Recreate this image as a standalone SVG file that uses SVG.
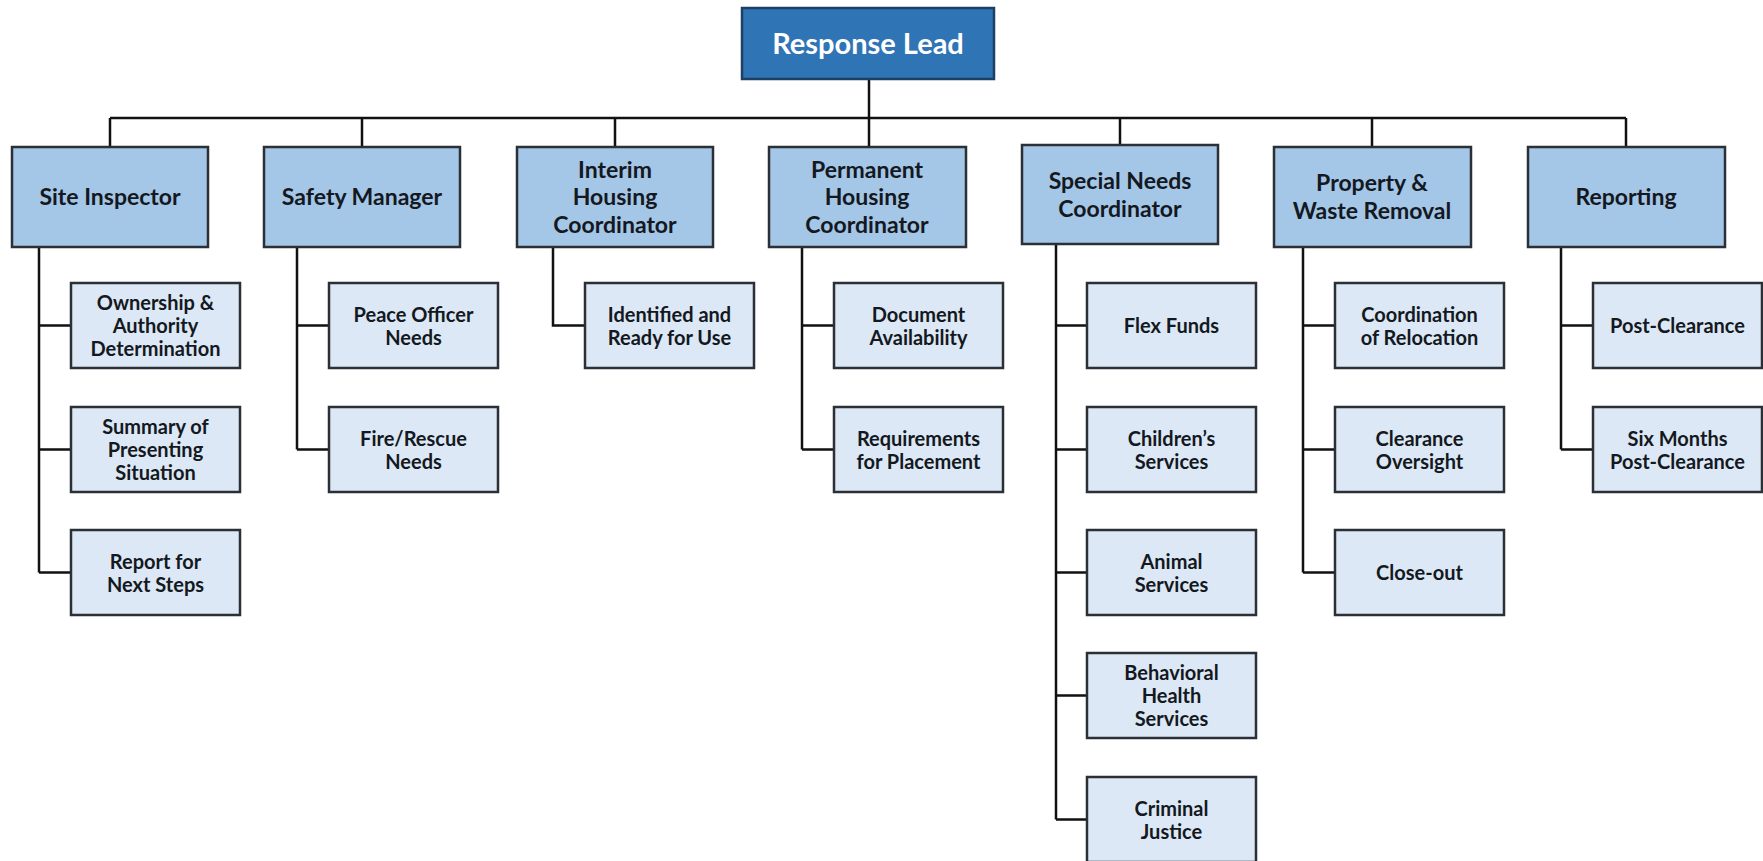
<svg xmlns="http://www.w3.org/2000/svg" width="1763" height="861" viewBox="0 0 1763 861">
<style>
.top{fill:#2f74b5;stroke:#1d3f66;stroke-width:2.5}
.l1{fill:#a4c6e7;stroke:#2b2f36;stroke-width:2.5}
.l2{fill:#dce8f5;stroke:#2b2f36;stroke-width:2.5}
.t0{font-family:Lato,"Open Sans",sans-serif;font-weight:700;font-size:29px;fill:#ffffff;text-anchor:middle}
.t1{font-family:Lato,"Open Sans",sans-serif;font-weight:700;font-size:23px;fill:#141821;text-anchor:middle}
.t2{font-family:Lato,"Open Sans",sans-serif;font-weight:700;font-size:20px;fill:#141821;text-anchor:middle}
.c{fill:none;stroke:#111111;stroke-width:2.5}
</style>
<rect width="1763" height="861" fill="#ffffff"/>
<g id="connectors">
<path class="c" d="M869 79V146M110 118H1626M110 118V147M362 118V147M615 118V147M1120 118V145M1372 118V147M1626 118V147"/>
<path class="c" d="M39 247V572.5M39 325.5H71M39 449.5H71M39 572.5H71"/>
<path class="c" d="M297 247V449.5M297 325.5H329M297 449.5H329"/>
<path class="c" d="M553 247V325.5H585"/>
<path class="c" d="M802 247V449.5M802 325.5H834M802 449.5H834"/>
<path class="c" d="M1056 244V819.5M1056 325.5H1087M1056 449.5H1087M1056 572.5H1087M1056 695.5H1087M1056 819.5H1087"/>
<path class="c" d="M1303 247V572.5M1303 325.5H1335M1303 449.5H1335M1303 572.5H1335"/>
<path class="c" d="M1561 247V449.5M1561 325.5H1593M1561 449.5H1593"/>
</g>
<g id="response-lead"><rect class="top" x="742" y="8" width="252" height="71"/><text class="t0" x="868" y="54">Response Lead</text></g>
<g id="site-inspector"><rect class="l1" x="12" y="147" width="196" height="100"/><text class="t1" x="110" y="205">Site Inspector</text></g>
<g id="safety-manager"><rect class="l1" x="264" y="147" width="196" height="100"/><text class="t1" x="362" y="205">Safety Manager</text></g>
<g id="interim-housing"><rect class="l1" x="517" y="147" width="196" height="100"/><text class="t1" x="615" y="177.5">Interim</text><text class="t1" x="615" y="205">Housing</text><text class="t1" x="615" y="232.5">Coordinator</text></g>
<g id="permanent-housing"><rect class="l1" x="769" y="147" width="197" height="100"/><text class="t1" x="867" y="177.5">Permanent</text><text class="t1" x="867" y="205">Housing</text><text class="t1" x="867" y="232.5">Coordinator</text></g>
<g id="special-needs"><rect class="l1" x="1022" y="145" width="196" height="99"/><text class="t1" x="1120" y="189">Special Needs</text><text class="t1" x="1120" y="216.5">Coordinator</text></g>
<g id="property-waste"><rect class="l1" x="1274" y="147" width="197" height="100"/><text class="t1" x="1372" y="191">Property &amp;</text><text class="t1" x="1372" y="218.5">Waste Removal</text></g>
<g id="reporting"><rect class="l1" x="1528" y="147" width="197" height="100"/><text class="t1" x="1626" y="205">Reporting</text></g>
<g id="ownership"><rect class="l2" x="71" y="283" width="169" height="85"/><text class="t2" x="155.5" y="310">Ownership &amp;</text><text class="t2" x="155.5" y="333">Authority</text><text class="t2" x="155.5" y="356">Determination</text></g>
<g id="summary"><rect class="l2" x="71" y="407" width="169" height="85"/><text class="t2" x="155.5" y="434">Summary of</text><text class="t2" x="155.5" y="457">Presenting</text><text class="t2" x="155.5" y="480">Situation</text></g>
<g id="report-next"><rect class="l2" x="71" y="530" width="169" height="85"/><text class="t2" x="155.5" y="569">Report for</text><text class="t2" x="155.5" y="592">Next Steps</text></g>
<g id="peace-officer"><rect class="l2" x="329" y="283" width="169" height="85"/><text class="t2" x="413.5" y="322">Peace Officer</text><text class="t2" x="413.5" y="345">Needs</text></g>
<g id="fire-rescue"><rect class="l2" x="329" y="407" width="169" height="85"/><text class="t2" x="413.5" y="446">Fire/Rescue</text><text class="t2" x="413.5" y="469">Needs</text></g>
<g id="identified"><rect class="l2" x="585" y="283" width="169" height="85"/><text class="t2" x="669.5" y="322">Identified and</text><text class="t2" x="669.5" y="345">Ready for Use</text></g>
<g id="document"><rect class="l2" x="834" y="283" width="169" height="85"/><text class="t2" x="918.5" y="322">Document</text><text class="t2" x="918.5" y="345">Availability</text></g>
<g id="requirements"><rect class="l2" x="834" y="407" width="169" height="85"/><text class="t2" x="918.5" y="446">Requirements</text><text class="t2" x="918.5" y="469">for Placement</text></g>
<g id="flex-funds"><rect class="l2" x="1087" y="283" width="169" height="85"/><text class="t2" x="1171.5" y="333">Flex Funds</text></g>
<g id="childrens"><rect class="l2" x="1087" y="407" width="169" height="85"/><text class="t2" x="1171.5" y="446">Children’s</text><text class="t2" x="1171.5" y="469">Services</text></g>
<g id="animal"><rect class="l2" x="1087" y="530" width="169" height="85"/><text class="t2" x="1171.5" y="569">Animal</text><text class="t2" x="1171.5" y="592">Services</text></g>
<g id="behavioral"><rect class="l2" x="1087" y="653" width="169" height="85"/><text class="t2" x="1171.5" y="680">Behavioral</text><text class="t2" x="1171.5" y="703">Health</text><text class="t2" x="1171.5" y="726">Services</text></g>
<g id="criminal"><rect class="l2" x="1087" y="777" width="169" height="85"/><text class="t2" x="1171.5" y="816">Criminal</text><text class="t2" x="1171.5" y="839">Justice</text></g>
<g id="coordination"><rect class="l2" x="1335" y="283" width="169" height="85"/><text class="t2" x="1419.5" y="322">Coordination</text><text class="t2" x="1419.5" y="345">of Relocation</text></g>
<g id="clearance"><rect class="l2" x="1335" y="407" width="169" height="85"/><text class="t2" x="1419.5" y="446">Clearance</text><text class="t2" x="1419.5" y="469">Oversight</text></g>
<g id="close-out"><rect class="l2" x="1335" y="530" width="169" height="85"/><text class="t2" x="1419.5" y="580">Close-out</text></g>
<g id="post-clearance"><rect class="l2" x="1593" y="283" width="169" height="85"/><text class="t2" x="1677.5" y="333">Post-Clearance</text></g>
<g id="six-months"><rect class="l2" x="1593" y="407" width="169" height="85"/><text class="t2" x="1677.5" y="446">Six Months</text><text class="t2" x="1677.5" y="469">Post-Clearance</text></g>
</svg>
